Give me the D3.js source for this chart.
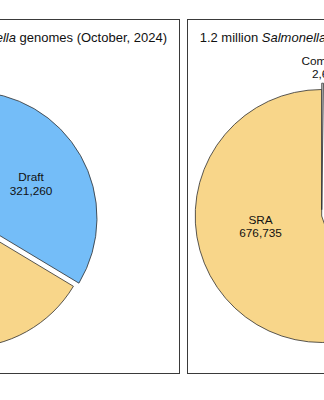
<!DOCTYPE html>
<html>
<head>
<meta charset="utf-8">
<script src="https://cdn.jsdelivr.net/npm/d3@7"></script>
<style>
  html, body { margin: 0; padding: 0; background: #ffffff; overflow: hidden; }
  svg { display: block; font-family: "Liberation Sans", Arial, Helvetica, sans-serif; }
</style>
</head>
<body>
<svg id="chart" width="324" height="400"></svg>
<script>
// ---------------- data ----------------
const leftCategories  = ["SRA", "Draft"];
const leftValues      = [634500, 321260];
const leftExplode     = [0.05, 0];

const rightCategories = ["SRA", "Assembled", "Complete"];
const rightValues     = [676735, 545300, 2650];
const rightExplode    = [0, 0.05, 0.05];

const leftTitleParts  = ["0.96 million ", "Salmonella", " genomes (October, 2024)"];
const rightTitleParts = ["1.2 million ", "Salmonella", " genomes (October, 2024)"];

// ---------------- styles / layout ----------------
const colorOf = { "SRA": "#F8D68A", "Draft": "#74BDF8", "Assembled": "#74BDF8", "Complete": "#CFCFCF" };
const R = 126.5;
const fmt = d3.format(",");

const panels = [
  { cats: leftCategories, vals: leftValues, explode: leftExplode, cx: -29.5, cy: 218,
    box: [-220, 179.5], title: leftTitleParts, titleX: 167, anchor: "end",
    labelFrac: { "SRA": 0.55, "Draft": 0.55 }, labelDx: {} },
  { cats: rightCategories, vals: rightValues, explode: rightExplode, cx: 321.7, cy: 216,
    box: [187.5, 560], title: rightTitleParts, titleX: 199.7, anchor: "start",
    labelFrac: { "SRA": 0.49, "Assembled": 0.49, "Complete": 1.125 }, labelDx: { "Complete": 4 } }
];

const svg = d3.select("#chart");
svg.append("rect").attr("width", 324).attr("height", 400).attr("fill", "#fff");

const pie = d3.pie().sort(null).startAngle(0).endAngle(-2 * Math.PI).value(d => d.v);
const arc = d3.arc().innerRadius(0).outerRadius(R);

panels.forEach(p => {
  const g = svg.append("g");
  // panel frame
  g.append("rect")
    .attr("x", p.box[0]).attr("y", 19.5)
    .attr("width", p.box[1] - p.box[0]).attr("height", 354)
    .attr("fill", "none").attr("stroke", "#3a3a3a").attr("stroke-width", 1);

  // title
  const t = g.append("text")
    .attr("x", p.titleX).attr("y", 41.7)
    .attr("text-anchor", p.anchor)
    .attr("font-size", 13).attr("fill", "#111");
  p.title.forEach((s, i) => {
    t.append("tspan").text(s).attr("font-style", i === 1 ? "italic" : "normal");
  });

  const data = p.cats.map((c, i) => ({ c, v: p.vals[i], ex: p.explode[i] }));
  const arcs = pie(data);

  const pg = g.append("g").attr("transform", `translate(${p.cx},${p.cy})`);
  arcs.forEach(a => {
    const mid = (a.startAngle + a.endAngle) / 2;
    const off = a.data.ex * R;
    const ox = Math.sin(mid) * off, oy = -Math.cos(mid) * off;
    const sg = pg.append("g").attr("transform", `translate(${ox},${oy})`);
    sg.append("path")
      .attr("d", arc(a))
      .attr("fill", colorOf[a.data.c])
      .attr("stroke", "#2e2e2e")
      .attr("stroke-width", 0.8)
      .attr("stroke-linejoin", "miter");

    const lr = (p.labelFrac[a.data.c] || 0.5) * R;
    const lx = Math.sin(mid) * lr + (p.labelDx[a.data.c] || 0);
    const ly = -Math.cos(mid) * lr;
    const lab = sg.append("text")
      .attr("text-anchor", "middle")
      .attr("font-size", 11.8).attr("fill", "#111");
    lab.append("tspan").attr("x", lx).attr("y", ly - 2.35).text(a.data.c);
    lab.append("tspan").attr("x", lx).attr("y", ly - 2.35 + 13.2).text(fmt(a.data.v));
  });
});
</script>
</body>
</html>
